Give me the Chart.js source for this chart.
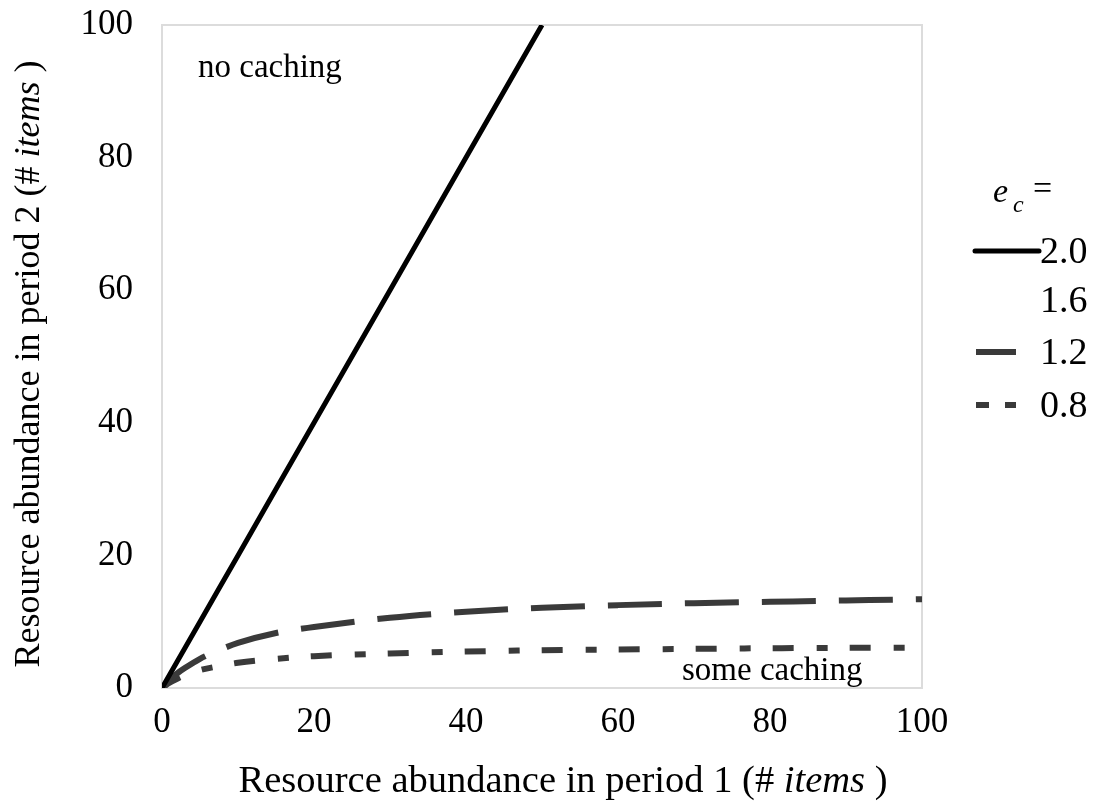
<!DOCTYPE html>
<html>
<head>
<meta charset="utf-8">
<script src="https://cdn.jsdelivr.net/npm/chart.js@4"></script>
<style>
  html, body { margin: 0; padding: 0; background: #fff; }
  #wrap { width: 1102px; height: 810px; position: relative; }
</style>
</head>
<body>
<div id="wrap"><canvas id="chart"></canvas></div>
<script>
// x values (resource abundance in period 1)
const xValues = [0, 1, 2, 3, 5, 7.5, 10, 15, 20, 30, 40, 50, 60, 70, 80, 90, 100];

// series, one per e_c value
const ec20 = [0, 2, 4, 6, 10, 15, 20, 30, 40, 60, 80, 100];
const ec16 = [0, 2, 4, 6, 10, 15, 20, 30, 40, 60, 80, 100];
const ec12 = [0, 1.2, 2.2, 3.0, 4.4, 5.7, 6.8, 8.3, 9.2, 10.6, 11.5, 12.1, 12.5, 12.8, 13.0, 13.2, 13.4];
const ec08 = [0, 0.8, 1.4, 1.9, 2.7, 3.3, 3.8, 4.4, 4.8, 5.2, 5.5, 5.7, 5.8, 5.9, 6.0, 6.05, 6.1];

const seriesLabels = ['2.0', '1.6', '1.2', '0.8'];
const xTicks = [0, 20, 40, 60, 80, 100];
const yTicks = [0, 20, 40, 60, 80, 100];

const FONT = "'Liberation Serif', 'Times New Roman', serif";

function toPoints(ys) {
  return ys.map((y, i) => ({ x: xValues[i], y: y }));
}

// draws a title made of plain + italic parts, centred on (cx, cy)
function mixedText(ctx, parts, size, cx, cy) {
  let total = 0;
  parts.forEach(p => { ctx.font = p[1] + size + 'px ' + FONT; total += ctx.measureText(p[0]).width; });
  let x = cx - total / 2;
  parts.forEach(p => {
    ctx.font = p[1] + size + 'px ' + FONT;
    ctx.fillText(p[0], x, cy);
    x += ctx.measureText(p[0]).width;
  });
}

// plot frame + annotations + axis titles + legend
const decorations = {
  id: 'decorations',
  beforeDatasetsDraw(chart) {
    const { ctx, chartArea: a } = chart;
    ctx.save();
    ctx.strokeStyle = '#dcdcdc';
    ctx.lineWidth = 2;
    ctx.strokeRect(a.left, a.top, a.right - a.left, a.bottom - a.top);
    ctx.restore();
  },
  afterDraw(chart) {
    const { ctx, chartArea: a } = chart;
    ctx.save();
    ctx.fillStyle = '#000';
    ctx.textBaseline = 'middle';
    ctx.textAlign = 'left';

    // annotations
    ctx.font = '33px ' + FONT;
    ctx.fillText('no caching', 198, 68);
    ctx.fillText('some caching', 682, 671);

    // axis titles
    mixedText(ctx, [['Resource abundance in period 1 (# ', ''], ['items', 'italic '], [' )', '']], 38.5, 563, 782);
    ctx.save();
    ctx.translate(30, 364);
    ctx.rotate(-Math.PI / 2);
    mixedText(ctx, [['Resource abundance in period 2 (# ', ''], ['items', 'italic '], [' )', '']], 36, 0, 0);
    ctx.restore();
    ctx.restore();

    // legend
    ctx.save();
    ctx.textBaseline = 'middle';
    ctx.textAlign = 'left';
    ctx.fillStyle = '#000';
    ctx.font = 'italic 34px ' + FONT;
    ctx.fillText('e', 993, 193);
    ctx.font = 'italic 24px ' + FONT;
    ctx.fillText('c', 1013, 206);
    ctx.font = '34px ' + FONT;
    ctx.fillText('=', 1033, 190);
    const rows = [251, 300, 352, 405];
    chart.data.datasets.forEach((ds, i) => {
      const y = rows[i];
      ctx.save();
      ctx.strokeStyle = ds.borderColor;
      ctx.lineWidth = ds.borderWidth;
      ctx.lineCap = i === 0 ? 'round' : 'butt';
      ctx.setLineDash(ds.legendDash || []);
      ctx.beginPath();
      ctx.moveTo(i === 0 ? 975 : 976, y);
      ctx.lineTo(i === 0 ? 1039 : 1016, y);
      ctx.stroke();
      ctx.restore();
      ctx.font = '38px ' + FONT;
      ctx.fillStyle = '#000';
      ctx.fillText(ds.label, 1040, y + 2);
    });
    ctx.restore();
  }
};

function noOverflow(scale) {
  scale.paddingTop = 0;
  scale.paddingBottom = 0;
  scale.paddingLeft = 0;
  scale.paddingRight = 0;
}

new Chart(document.getElementById('chart'), {
  type: 'line',
  data: {
    datasets: [
      {
        label: seriesLabels[0],
        data: toPoints(ec20),
        borderColor: '#000000',
        borderWidth: 5,
        pointRadius: 0,
        order: 0
      },
      {
        label: seriesLabels[1],
        data: toPoints(ec16),
        borderColor: 'rgba(255,255,255,0)',
        borderWidth: 5,
        pointRadius: 0,
        order: 1
      },
      {
        label: seriesLabels[2],
        data: toPoints(ec12),
        borderColor: '#3a3a3a',
        borderWidth: 6,
        borderDash: [54, 23],
        legendDash: [],
        pointRadius: 0,
        cubicInterpolationMode: 'monotone',
        order: 2
      },
      {
        label: seriesLabels[3],
        data: toPoints(ec08),
        borderColor: '#3a3a3a',
        borderWidth: 6,
        borderDash: [21, 23, 11, 22],
        legendDash: [13, 16],
        pointRadius: 0,
        cubicInterpolationMode: 'monotone',
        order: 3
      }
    ]
  },
  options: {
    responsive: true,
    maintainAspectRatio: false,
    animation: false,
    layout: {
      padding: { left: 0, right: 180, top: 25, bottom: 0 }
    },
    scales: {
      x: {
        type: 'linear',
        min: 0,
        max: 100,
        afterBuildTicks: (scale) => { scale.ticks = xTicks.map(v => ({ value: v })); },
        afterFit: (scale) => { scale.height = 122; noOverflow(scale); },
        grid: { display: false, drawTicks: false },
        border: { display: false },
        ticks: {
          padding: 14,
          color: '#000',
          font: { family: FONT, size: 35 }
        }
      },
      y: {
        type: 'linear',
        min: 0,
        max: 100,
        afterBuildTicks: (scale) => { scale.ticks = yTicks.map(v => ({ value: v })); },
        afterFit: (scale) => { scale.width = 162; noOverflow(scale); },
        grid: { display: false, drawTicks: false },
        border: { display: false },
        ticks: {
          padding: 29,
          color: '#000',
          font: { family: FONT, size: 35 }
        }
      }
    },
    plugins: {
      legend: { display: false },
      tooltip: { enabled: false }
    }
  },
  plugins: [decorations]
});
</script>
</body>
</html>
